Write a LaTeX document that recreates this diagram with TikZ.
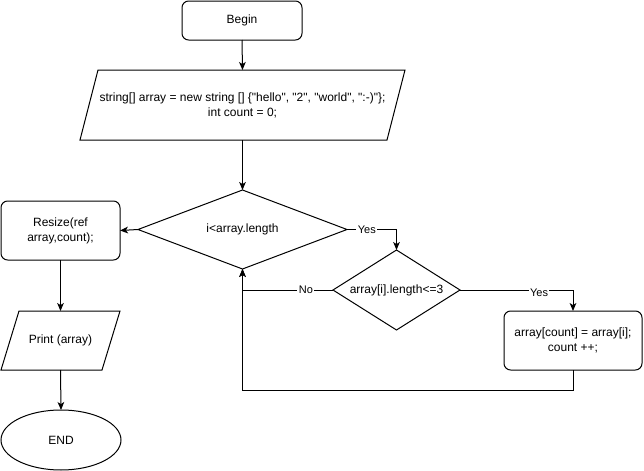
\documentclass[tikz,border=0pt]{standalone}
\usepackage{fontspec}
\setmainfont{Liberation Sans}[Ligatures=TeXOff]
\usetikzlibrary{arrows.meta,shapes.geometric,calc}

\begin{document}
\begin{tikzpicture}[x=0.75pt,y=-0.75pt,
  every node/.style={font=\fontsize{9}{11.25}\selectfont, text=black},
  line/.style={draw=black, line width=0.75pt},
  arr/.style={line, -{Stealth[length=6pt,width=5pt,inset=1.6pt]}},
  proc/.style={draw=black, line width=0.75pt, rounded corners=5pt, align=center, inner sep=0pt, outer sep=0pt},
  frame/.style={draw=none, inner sep=0pt, outer sep=0pt, align=center},
  lbl/.style={fill=white, inner sep=1pt, font=\fontsize{8.25}{10}\selectfont}
]
\useasboundingbox (0,0) rectangle (644,471);

% process boxes and terminals
\node[proc, minimum width=90pt, minimum height=29.25pt] (begin) at (242,20.5) {Begin};
\node[frame, minimum width=230.25pt, minimum height=52.5pt] (init) at (242.5,105)
  {string[] array = new string [] \{"hello", "2", "world", ":-)"\};\\int count = 0;};
\node[frame, minimum width=156.75pt, minimum height=59.25pt] (d1) at (242.5,229.5) {i<array.length};
\node[proc, minimum width=89.25pt, minimum height=44.25pt] (resize) at (60.5,230.5) {Resize(ref\\array,count);};
\node[frame, minimum width=75.75pt, minimum height=44.25pt] (print) at (60.5,340.5) {Print (array)};
\node[draw=black, line width=0.75pt, ellipse, inner sep=0pt, outer sep=0pt,
      minimum width=90pt, minimum height=45pt] (end) at (61,440) {END};
\node[frame, minimum width=95.25pt, minimum height=60pt] (d2) at (396.5,290) {array[i].length<=3};
\node[proc, minimum width=103.5pt, minimum height=44.25pt] (body) at (573,340.5) {array[count] = array[i];\\count ++;};
\coordinate (loopy) at (0,390);

% slanted input/output outlines
\draw[line] ($(init.north west)+(9,0)$) -- ($(init.north east)+(9,0)$)
  -- ($(init.south east)+(-9,0)$) -- ($(init.south west)+(-9,0)$) -- cycle;
\draw[line] ($(print.north west)+(9,0)$) -- ($(print.north east)+(9,0)$)
  -- ($(print.south east)+(-9,0)$) -- ($(print.south west)+(-9,0)$) -- cycle;

% decision outlines
\draw[line] (d1.north) -- (d1.east) -- (d1.south) -- (d1.west) -- cycle;
\draw[line] (d2.north) -- (d2.east) -- (d2.south) -- (d2.west) -- cycle;

% connectors
\draw[arr] (begin.south) -- (init.north);
\draw[arr] (init.south) -- (d1.north);
\draw[arr] (d1.west) -- (resize.east);
\draw[arr] (resize.south) -- (print.north);
\draw[arr] (print.south) -- (end.north);
\draw[arr] (d1.east) -| node[lbl, pos=0.2] {Yes} (d2.north);
\draw[arr] (d2.west) -| node[lbl, pos=0.15] {No} (d1.south);
\draw[arr] (d2.east) -| node[lbl, pos=0.35, yshift=-2pt] {Yes} (body.north);
\draw[arr] (body.south) -- (body.south |- loopy) -| (d1.south);
\end{tikzpicture}
\end{document}
